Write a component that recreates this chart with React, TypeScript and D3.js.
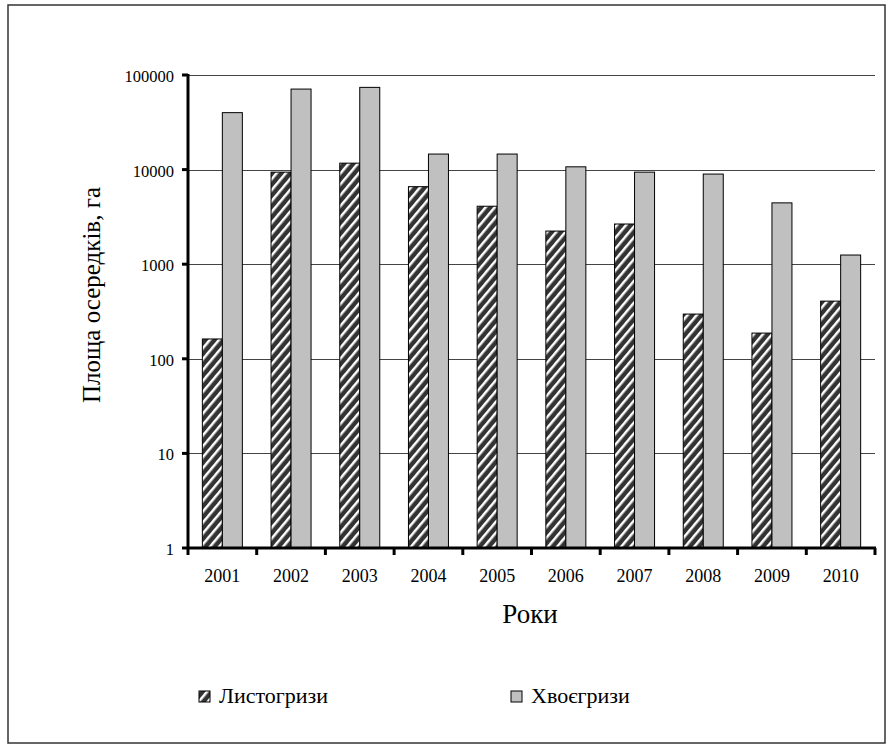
import React, { useEffect, useRef } from 'react';
import * as d3 from 'd3';

const years = ['2001', '2002', '2003', '2004', '2005', '2006', '2007', '2008', '2009', '2010'];
const leafEaters = [162, 9400, 11700, 6600, 4100, 2240, 2660, 297, 187, 407];
const needleEaters = [40000, 71000, 74000, 14600, 14600, 10700, 9400, 8970, 4450, 1250];
const yTicks = [1, 10, 100, 1000, 10000, 100000];
const seriesNames = ['Листогризи', 'Хвоєгризи'];

const FONT = '"Liberation Serif", "Times New Roman", serif';

const Chart: React.FC = () => {
  const svgRef = useRef<SVGSVGElement>(null);

  useEffect(() => {
    if (!svgRef.current) return;
    const svg = d3.select(svgRef.current);
    svg.selectAll('*').remove();

    const width = 894;
    const height = 751;
    const left = 188, right = 875, top = 75, bottom = 548;

    svg.attr('width', width).attr('height', height);

    // hatch pattern
    const defs = svg.append('defs');
    const pat = defs.append('pattern')
      .attr('id', 'hatch')
      .attr('patternUnits', 'userSpaceOnUse')
      .attr('width', 7)
      .attr('height', 7)
      .attr('patternTransform', 'rotate(40)');
    pat.append('rect').attr('width', 7).attr('height', 7).attr('fill', '#333');
    pat.append('rect').attr('x', 0).attr('y', 0).attr('width', 2.5).attr('height', 7).attr('fill', '#fff');

    // outer frame
    svg.append('rect')
      .attr('x', 8).attr('y', 5)
      .attr('width', 877).attr('height', 738)
      .attr('fill', 'none').attr('stroke', '#333').attr('stroke-width', 1.5);

    const x = d3.scaleBand<string>().domain(years).range([left, right]);
    const y = d3.scaleLog().domain([1, 100000]).range([bottom, top]);

    // gridlines
    svg.append('g')
      .selectAll('line')
      .data(yTicks.slice(1))
      .join('line')
      .attr('x1', left).attr('x2', right)
      .attr('y1', d => Math.round(y(d)) + 0.5).attr('y2', d => Math.round(y(d)) + 0.5)
      .attr('stroke', '#444').attr('stroke-width', 1);

    const bw = 20;
    const g = svg.append('g');
    g.selectAll('rect.leaf')
      .data(leafEaters)
      .join('rect')
      .attr('class', 'leaf')
      .attr('x', (_, i) => x(years[i])! + x.bandwidth() / 2 - bw)
      .attr('y', d => y(d))
      .attr('width', bw)
      .attr('height', d => bottom - y(d))
      .attr('fill', 'url(#hatch)')
      .attr('stroke', '#000').attr('stroke-width', 1);

    g.selectAll('rect.needle')
      .data(needleEaters)
      .join('rect')
      .attr('class', 'needle')
      .attr('x', (_, i) => x(years[i])! + x.bandwidth() / 2)
      .attr('y', d => y(d))
      .attr('width', bw)
      .attr('height', d => bottom - y(d))
      .attr('fill', '#c0c0c0')
      .attr('stroke', '#000').attr('stroke-width', 1);

    // axes
    svg.append('line')
      .attr('x1', left).attr('x2', left).attr('y1', top - 1).attr('y2', bottom + 1)
      .attr('stroke', '#000').attr('stroke-width', 3);
    svg.append('line')
      .attr('x1', left - 1).attr('x2', right + 1).attr('y1', bottom).attr('y2', bottom)
      .attr('stroke', '#000').attr('stroke-width', 3);

    svg.append('g').selectAll('line')
      .data(yTicks)
      .join('line')
      .attr('x1', left - 6).attr('x2', left)
      .attr('y1', d => y(d)).attr('y2', d => y(d))
      .attr('stroke', '#000').attr('stroke-width', 3);

    const bounds = years.map(yr => x(yr)!).concat([right]);
    svg.append('g').selectAll('line')
      .data(bounds)
      .join('line')
      .attr('x1', d => d).attr('x2', d => d)
      .attr('y1', bottom).attr('y2', bottom + 7)
      .attr('stroke', '#000').attr('stroke-width', 3);

    // tick labels
    svg.append('g').selectAll('text')
      .data(yTicks)
      .join('text')
      .attr('x', left - 14)
      .attr('y', d => y(d) + 7)
      .attr('text-anchor', 'end')
      .attr('font-family', FONT).attr('font-size', 16.5)
      .text(d => String(d));

    svg.append('g').selectAll('text')
      .data(years)
      .join('text')
      .attr('x', d => x(d)! + x.bandwidth() / 2)
      .attr('y', 582)
      .attr('text-anchor', 'middle')
      .attr('font-family', FONT).attr('font-size', 18)
      .text(d => d);

    // axis titles
    svg.append('text')
      .attr('x', 530).attr('y', 623)
      .attr('text-anchor', 'middle')
      .attr('font-family', FONT).attr('font-size', 27)
      .text('Роки');

    svg.append('text')
      .attr('transform', 'translate(100, 403) rotate(-90)')
      .attr('text-anchor', 'start')
      .attr('font-family', FONT).attr('font-size', 25)
      .text('Площа осередків, га');

    // legend
    const legendX = [199, 511];
    const fills = ['url(#hatch)', '#c0c0c0'];
    const lg = svg.append('g');
    seriesNames.forEach((name, i) => {
      lg.append('rect')
        .attr('x', legendX[i]).attr('y', 691)
        .attr('width', 11).attr('height', 11)
        .attr('fill', fills[i]).attr('stroke', '#000').attr('stroke-width', 1);
      lg.append('text')
        .attr('x', legendX[i] + 20).attr('y', 703)
        .attr('font-family', FONT).attr('font-size', 22)
        .text(name);
    });
  }, []);

  return <svg ref={svgRef} style={{ position: 'absolute', left: 0, top: 0 }} />;
};

export default function App() {
  return <Chart />;
}
